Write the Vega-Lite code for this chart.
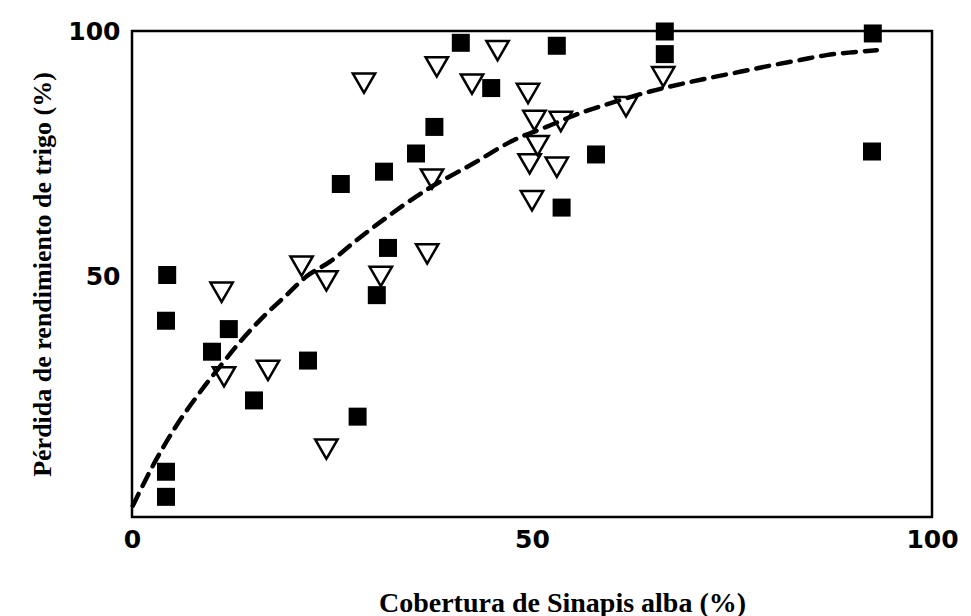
{
  "$schema": "https://vega.github.io/schema/vega-lite/v6.json",
  "width": 800,
  "height": 486,
  "autosize": {"type": "none"},
  "padding": {"left": 132, "top": 31, "right": 39, "bottom": 99},
  "background": "white",
  "config": {
    "view": {"stroke": "black", "strokeWidth": 2.5},
    "axis": {"grid": false, "domain": false, "ticks": false, "labelFlush": false, "labelOverlap": false}
  },
  "datasets": {
    "points": [
      {"serie": "cuadrado", "cobertura": 4.4, "perdida": 50.4},
      {"serie": "cuadrado", "cobertura": 4.25, "perdida": 41.1},
      {"serie": "cuadrado", "cobertura": 4.25, "perdida": 10.4},
      {"serie": "cuadrado", "cobertura": 4.25, "perdida": 5.3},
      {"serie": "cuadrado", "cobertura": 10.0, "perdida": 34.8},
      {"serie": "cuadrado", "cobertura": 12.1, "perdida": 39.4},
      {"serie": "cuadrado", "cobertura": 15.25, "perdida": 24.9},
      {"serie": "cuadrado", "cobertura": 22.0, "perdida": 33.0},
      {"serie": "cuadrado", "cobertura": 28.2, "perdida": 21.6},
      {"serie": "cuadrado", "cobertura": 30.6, "perdida": 46.3},
      {"serie": "cuadrado", "cobertura": 32.0, "perdida": 55.9},
      {"serie": "cuadrado", "cobertura": 26.1, "perdida": 68.9},
      {"serie": "cuadrado", "cobertura": 31.5, "perdida": 71.4},
      {"serie": "cuadrado", "cobertura": 35.5, "perdida": 75.1},
      {"serie": "cuadrado", "cobertura": 37.8, "perdida": 80.5},
      {"serie": "cuadrado", "cobertura": 41.1, "perdida": 97.6},
      {"serie": "cuadrado", "cobertura": 44.9, "perdida": 88.4},
      {"serie": "cuadrado", "cobertura": 53.1, "perdida": 97.0},
      {"serie": "cuadrado", "cobertura": 58.0, "perdida": 74.9},
      {"serie": "cuadrado", "cobertura": 53.7, "perdida": 64.1},
      {"serie": "cuadrado", "cobertura": 66.6, "perdida": 99.9},
      {"serie": "cuadrado", "cobertura": 66.6, "perdida": 95.3},
      {"serie": "cuadrado", "cobertura": 92.6, "perdida": 99.5},
      {"serie": "cuadrado", "cobertura": 92.5, "perdida": 75.5},
      {"serie": "triangulo", "cobertura": 11.2, "perdida": 46.9},
      {"serie": "triangulo", "cobertura": 11.5, "perdida": 29.7},
      {"serie": "triangulo", "cobertura": 17.0, "perdida": 31.0},
      {"serie": "triangulo", "cobertura": 21.2, "perdida": 52.2},
      {"serie": "triangulo", "cobertura": 24.3, "perdida": 49.2},
      {"serie": "triangulo", "cobertura": 24.3, "perdida": 15.0},
      {"serie": "triangulo", "cobertura": 31.1, "perdida": 50.1},
      {"serie": "triangulo", "cobertura": 29.0, "perdida": 89.4},
      {"serie": "triangulo", "cobertura": 38.1, "perdida": 92.7},
      {"serie": "triangulo", "cobertura": 45.7, "perdida": 96.0},
      {"serie": "triangulo", "cobertura": 42.5, "perdida": 89.2},
      {"serie": "triangulo", "cobertura": 49.5, "perdida": 87.3},
      {"serie": "triangulo", "cobertura": 50.3, "perdida": 81.8},
      {"serie": "triangulo", "cobertura": 53.6, "perdida": 81.6},
      {"serie": "triangulo", "cobertura": 50.7, "perdida": 76.7},
      {"serie": "triangulo", "cobertura": 49.7, "perdida": 73.0},
      {"serie": "triangulo", "cobertura": 53.1, "perdida": 72.3},
      {"serie": "triangulo", "cobertura": 50.0, "perdida": 65.5},
      {"serie": "triangulo", "cobertura": 37.5, "perdida": 69.9},
      {"serie": "triangulo", "cobertura": 36.9, "perdida": 54.7},
      {"serie": "triangulo", "cobertura": 61.75, "perdida": 84.6},
      {"serie": "triangulo", "cobertura": 66.4, "perdida": 90.7}
    ],
    "curve": [
      {"cobertura": 0.1, "perdida": 3.5},
      {"cobertura": 2.9, "perdida": 12.5},
      {"cobertura": 5.6, "perdida": 19.9},
      {"cobertura": 8.1, "perdida": 25.7},
      {"cobertura": 11.0, "perdida": 31.8},
      {"cobertura": 13.5, "perdida": 36.8},
      {"cobertura": 16.4, "perdida": 41.9},
      {"cobertura": 19.3, "perdida": 46.3},
      {"cobertura": 21.8, "perdida": 50.1},
      {"cobertura": 24.75, "perdida": 53.1},
      {"cobertura": 28.1, "perdida": 57.5},
      {"cobertura": 31.4, "perdida": 61.6},
      {"cobertura": 36.8, "perdida": 67.7},
      {"cobertura": 42.7, "perdida": 73.1},
      {"cobertura": 47.7, "perdida": 77.8},
      {"cobertura": 51.8, "perdida": 80.5},
      {"cobertura": 56.0, "perdida": 83.3},
      {"cobertura": 59.75, "perdida": 85.3},
      {"cobertura": 64.75, "perdida": 87.7},
      {"cobertura": 71.4, "perdida": 90.2},
      {"cobertura": 76.0, "perdida": 91.7},
      {"cobertura": 80.2, "perdida": 93.1},
      {"cobertura": 83.5, "perdida": 94.1},
      {"cobertura": 86.8, "perdida": 95.1},
      {"cobertura": 90.2, "perdida": 95.7},
      {"cobertura": 93.1, "perdida": 96.1}
    ]
  },
  "encoding": {
    "x": {
      "field": "cobertura",
      "type": "quantitative",
      "scale": {"domain": [0, 100], "nice": false, "zero": false},
      "axis": {
        "values": [0, 50, 100],
        "title": "Cobertura de Sinapis alba (%)",
        "labelFont": "DejaVu Sans",
        "labelFontWeight": "bold",
        "labelFontSize": 25,
        "labelColor": "black",
        "labelPadding": 10,
        "titleFont": "Liberation Serif",
        "titleFontWeight": "bold",
        "titleFontSize": 28,
        "titleColor": "black",
        "titlePadding": 37,
        "titleX": 430
      }
    },
    "y": {
      "field": "perdida",
      "type": "quantitative",
      "scale": {"domain": [1.2, 100], "nice": false, "zero": false},
      "axis": {
        "values": [50, 100],
        "title": "Pérdida de rendimiento de trigo (%)",
        "labelFont": "DejaVu Sans",
        "labelFontWeight": "bold",
        "labelFontSize": 25,
        "labelColor": "black",
        "labelPadding": 12,
        "titleFont": "Liberation Serif",
        "titleFontWeight": "bold",
        "titleFontSize": 26,
        "titleColor": "black",
        "titlePadding": 12
      }
    }
  },
  "layer": [
    {
      "data": {"name": "points"},
      "transform": [{"filter": "datum.serie === 'cuadrado'"}],
      "mark": {"type": "point", "shape": "square", "filled": true, "size": 324, "color": "black", "opacity": 1}
    },
    {
      "data": {"name": "points"},
      "transform": [{"filter": "datum.serie === 'triangulo'"}],
      "mark": {"type": "point", "shape": "triangle-down", "filled": false, "size": 500, "stroke": "black", "strokeWidth": 2.5, "opacity": 1}
    },
    {
      "data": {"name": "curve"},
      "mark": {"type": "line", "color": "black", "strokeWidth": 4.5, "strokeDash": [13, 9], "strokeCap": "round", "interpolate": "monotone"}
    }
  ]
}
